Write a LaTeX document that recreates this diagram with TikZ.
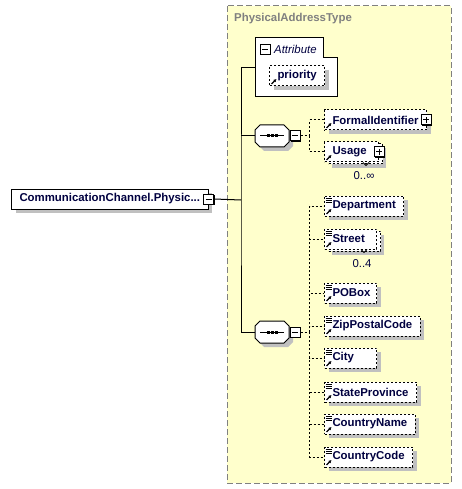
\documentclass[tikz,border=0pt]{standalone}
\usepackage{fontspec}
\setmainfont{Liberation Sans}
\usetikzlibrary{positioning, shapes.misc, shadows, arrows.meta}

\definecolor{gelb}{RGB}{255,255,204}
\definecolor{schatten}{RGB}{192,192,192}
\definecolor{rahmengrau}{RGB}{128,128,128}
\definecolor{schrift}{RGB}{0,0,64}

\newcommand{\groesse}{\fontsize{11.4bp}{13bp}\selectfont}
% kleine symbole in den kaesten
\newcommand{\refpfeil}{\draw[solid, line width=1.3bp, -{Latex[length=3bp,width=3.5bp]}] ([xshift=2bp,yshift=2bp]path picture bounding box.south west) -- ++(5bp,5bp);}
\newcommand{\inhaltstriche}{%
  \draw[solid, line width=0.8bp] ([xshift=1bp,yshift=-2bp]path picture bounding box.north west) -- ++(6bp,0bp);
  \draw[solid, line width=0.8bp] ([xshift=1bp,yshift=-4bp]path picture bounding box.north west) -- ++(6bp,0bp);
  \draw[solid, line width=0.8bp] ([xshift=1bp,yshift=-6bp]path picture bounding box.north west) -- ++(6bp,0bp);}

\tikzset{
  kasten/.style={draw, line width=1bp, dash pattern=on 2bp off 2bp, fill=white, text=schrift, font=\groesse\bfseries, minimum height=20bp, inner xsep=8bp, inner ysep=0pt, anchor=west},
  schmal/.style={text width=#1, align=left},
  einfach/.style={general shadow={shadow xshift=4bp, shadow yshift=-4bp, fill=schatten, draw=none}},
  mehrfach/.style={general shadow={shadow xshift=7bp, shadow yshift=-6bp, fill=schatten, draw=none}, general shadow={shadow xshift=4bp, shadow yshift=-2bp, fill=white, draw=black, line width=1bp, dash pattern=on 2bp off 2bp}},
  element/.style={kasten, einfach, path picture={\inhaltstriche\refpfeil}},
  refelement/.style={kasten, einfach, path picture={\refpfeil}},
  knopf/.style={draw, solid, fill=white, line width=1bp, minimum size=10bp, inner sep=0pt, general shadow={shadow xshift=1bp, shadow yshift=-1bp, fill=black, draw=none}},
  minusknopf/.style={knopf, path picture={\draw[line width=1bp] ([xshift=-3bp]path picture bounding box.center) -- ([xshift=3bp]path picture bounding box.center);}},
  plusknopf/.style={knopf, path picture={\draw[line width=1bp] ([xshift=-3bp]path picture bounding box.center) -- ([xshift=3bp]path picture bounding box.center) ([yshift=-3bp]path picture bounding box.center) -- ([yshift=3bp]path picture bounding box.center);}},
  sequenz/.style={chamfered rectangle, chamfered rectangle xsep=2.5bp, chamfered rectangle ysep=2.5bp, draw, line width=1bp, fill=white, inner xsep=14.5bp, inner ysep=8.5bp, einfach,
    path picture={\draw[line width=1bp] ([xshift=-12bp]path picture bounding box.center) -- ([xshift=12bp]path picture bounding box.center);
      \fill[black] ([xshift=-5.5bp,yshift=-1.5bp]path picture bounding box.center) rectangle ++(3bp,3bp);
      \fill[black] ([xshift=-1.5bp,yshift=-1.5bp]path picture bounding box.center) rectangle ++(3bp,3bp);
      \fill[black] ([xshift=2.5bp,yshift=-1.5bp]path picture bounding box.center) rectangle ++(3bp,3bp);}},
  linie/.style={line width=1bp},
  verbindung/.style={line width=1bp, dash pattern=on 2bp off 2bp},
  anzahl/.style={font=\groesse, text=schrift, inner sep=0pt}
}

\begin{document}
\begin{tikzpicture}[x=1bp, y=-1bp, font=\groesse]
	\useasboundingbox (0,0) rectangle (462,489);
	% der typ rahmen
	\draw[rahmengrau, fill=gelb, line width=1bp, dash pattern=on 6bp off 3bp] (227,6) rectangle (451,483);
	\node[anchor=west, inner sep=0pt, text=rahmengrau, font=\groesse\bfseries] (typname) at (234,19) {PhysicalAddressType};
	% das wurzel element
	\node[kasten, solid, einfach] (wurzel) at (11,199) {CommunicationChannel.Physic...\hspace{5bp}};
	\node[minusknopf] (wurzelknopf) at (wurzel.east) {};
	% die attribute
	\draw[fill=white, line width=1bp] (255,38) -| (323,58) -| (337,97) -| cycle;
	\coordinate (attr) at (255,68);
	\node[minusknopf] (attrknopf) at (265,49.5) {};
	\node[anchor=west, inner sep=0pt, text=schrift, font=\groesse\itshape] (attrtitel) at (274,49) {Attribute};
	\node[refelement] (priority) at (269,76) {priority};
	% die sequenzen
	\node[sequenz] (seqA) at (272,136) {};
	\node[minusknopf, right=0bp of seqA] (seqAknopf) {};
	\node[sequenz] (seqB) at (272,332) {};
	\node[minusknopf, right=0bp of seqB] (seqBknopf) {};
	% die linien vom wurzel element
	\coordinate (gabel) at (241,200);
	\draw[linie] (wurzelknopf.east) -- (gabel);
	\draw[linie] (attr) -| (gabel) |- (seqB.west);
	\draw[linie] (gabel |- seqA.west) -- (seqA.west);
	% elemente der ersten sequenz
	\node[refelement] (formal) at (324,120) {FormalIdentifier\hspace{7bp}};
	\node[plusknopf] (formalknopf) at ([xshift=-1bp]formal.east) {};
	\node[kasten, mehrfach, schmal=38bp, path picture={\refpfeil}] (usage) at (324,152) {Usage};
	\node[plusknopf] (usageknopf) at (usage.east) {};
	\draw[line width=0.8bp] ([xshift=-16bp]usage.south east) -- ++(3bp,-3bp) -- ++(3bp,3bp);
	\node[anzahl] (usagezahl) at ([xshift=-15bp,yshift=-13bp]usage.south east) {0..\char"221E};
	% elemente der zweiten sequenz
	\node[element] (department) at (324,206) {Department};
	\node[kasten, mehrfach, schmal=36bp, path picture={\inhaltstriche\refpfeil}] (street) at (324,239) {Street};
	\draw[line width=0.8bp] ([xshift=-16bp]street.south east) -- ++(3bp,-3bp) -- ++(3bp,3bp);
	\node[anzahl] (streetzahl) at ([xshift=-15bp,yshift=-14bp]street.south east) {0..4};
	\node[element, schmal=36bp] (pobox) at (324,293) {POBox};
	\node[element] (zip) at (324,326) {ZipPostalCode};
	\node[element, schmal=36bp] (city) at (324,358) {City};
	\node[element] (state) at (324,392) {StateProvince};
	\node[element] (cname) at (324,424) {CountryName};
	\node[element] (ccode) at (324,457) {CountryCode};
	% gestrichelte verbindungen
	\coordinate (astA) at ([xshift=9bp]seqAknopf.east);
	\coordinate (astB) at ([xshift=9bp]seqBknopf.east);
	\draw[verbindung] (seqAknopf.east) -- (astA);
	\draw[verbindung] (astA) |- (formal.west);
	\draw[verbindung] (astA) |- (usage.west);
	\draw[verbindung] (seqBknopf.east) -- (astB);
	\draw[verbindung] (astB) |- (department.west);
	\draw[verbindung] (astB) |- (street.west);
	\draw[verbindung] (astB) |- (pobox.west);
	\draw[verbindung] (astB) |- (zip.west);
	\draw[verbindung] (astB) |- (city.west);
	\draw[verbindung] (astB) |- (state.west);
	\draw[verbindung] (astB) |- (cname.west);
	\draw[verbindung] (astB) |- (ccode.west);
\end{tikzpicture}
\end{document}
